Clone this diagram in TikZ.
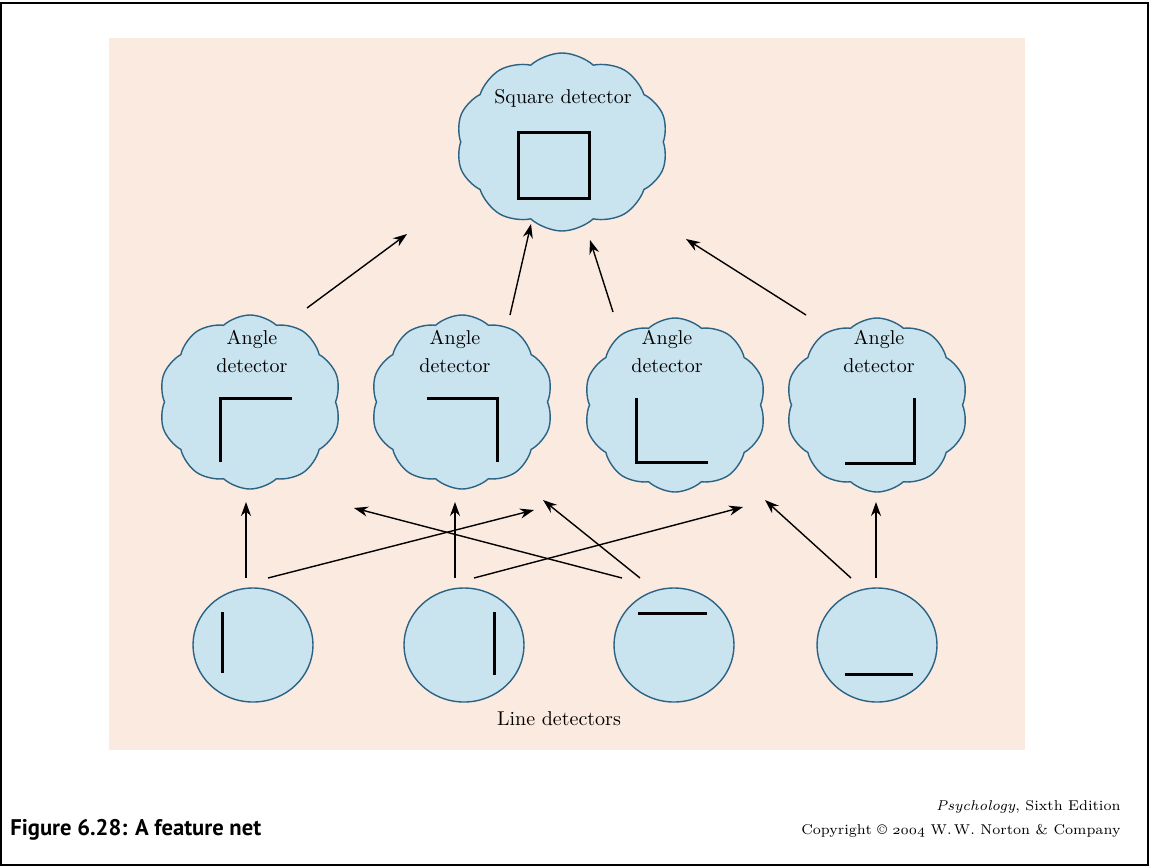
\documentclass[tikz,border=0pt]{standalone}
\usepackage{fontspec}
\newfontfamily\capfont{PT Sans}
\usepackage{tikz}
\usetikzlibrary{calc,shapes.symbols,shapes.geometric,arrows.meta}
\definecolor{peach}{HTML}{FBEADF}
\definecolor{skyfill}{HTML}{C9E3EF}
\definecolor{skyline}{HTML}{2B6384}
\tikzset{
  >={Stealth[length=7pt,width=5pt]},
  detcloud/.style={
    cloud,
    cloud puffs=10,
    cloud puff arc=85,
    cloud ignores aspect,
    fill=skyfill,
    draw=skyline, line width=0.7pt,
    minimum width=91pt,
    minimum height=87pt,
    inner sep=0pt},
  linedet/.style={
    ellipse,
    fill=skyfill,
    draw=skyline, line width=0.7pt,
    minimum width=60pt,
    minimum height=57pt,
    inner sep=0pt},
  glyph/.style={line width=1.5pt},
  lbl/.style={align=center, font=\fontsize{10}{14}\selectfont},
  feed/.style={->, line width=0.7pt},
  credit/.style={anchor=base east, inner sep=0pt, font=\fontsize{7.1}{10}\selectfont},
}
\begin{document}
\begin{tikzpicture}[x=0.5pt, y=-0.5pt]
  \useasboundingbox (0,0) rectangle (1149,867);
  \draw[line width=1pt] (1,3) rectangle (1148,865);
  \fill[peach] (109,38) rectangle (1025,750);

  % detectors
  \node[detcloud, minimum width=106pt, minimum height=89pt] (sq) at (562,142) {};
  \node[detcloud] (a1) at (250,402) {};
  \node[detcloud] (a2) at (462,402) {};
  \node[detcloud] (a3) at (675,405) {};
  \node[detcloud] (a4) at (877,405) {};
  \node[linedet] (l1) at (253,645) {};
  \node[linedet] (l2) at (464,645) {};
  \node[linedet] (l3) at (674,645) {};
  \node[linedet] (l4) at (877,645) {};

  % texts
  \node[lbl] (sq-txt) at ($(sq)+(1,-44)$) {Square detector};
  \node[lbl] (a1-txt) at ($(a1)+(2,-51)$) {Angle\\detector};
  \node[lbl] (a2-txt) at ($(a2)+(-7,-51)$) {Angle\\detector};
  \node[lbl] (a3-txt) at ($(a3)+(-8,-54)$) {Angle\\detector};
  \node[lbl] (a4-txt) at ($(a4)+(2,-54)$) {Angle\\detector};
  \node[lbl, anchor=base] (line-txt) at (559,725) {Line detectors};

  % features
  \draw[glyph] ($(sq)+(-44,-10)$) rectangle ($(sq)+(27,56)$);
  \draw[glyph] ($(a1)+(-30,60)$) -- ($(a1)+(-30,-4)$) -- ($(a1)+(42,-4)$);
  \draw[glyph] ($(a2)+(-35,-4)$) -- ($(a2)+(35,-4)$) -- ($(a2)+(35,60)$);
  \draw[glyph] ($(a3)+(-39,-7)$) -- ($(a3)+(-39,57)$) -- ($(a3)+(33,57)$);
  \draw[glyph] ($(a4)+(37,-7)$) -- ($(a4)+(37,58)$) -- ($(a4)+(-32,58)$);
  \draw[glyph] ($(l1)+(-31,-33)$) -- ($(l1)+(-31,28)$);
  \draw[glyph] ($(l2)+(30,-33)$) -- ($(l2)+(30,30)$);
  \draw[glyph] ($(l3)+(-36,-32)$) -- ($(l3)+(33,-32)$);
  \draw[glyph] ($(l4)+(-32,29)$) -- ($(l4)+(36,29)$);

  % line detectors to angle detectors
  \draw[feed] ($(l1)+(-7,-67)$) -- ($(a1)+(-4,100)$);
  \draw[feed] ($(l1)+(15,-67)$) -- ($(a3)+(-141,105)$);
  \draw[feed] ($(l2)+(-9,-67)$) -- ($(a2)+(-7,100)$);
  \draw[feed] ($(l2)+(10,-67)$) -- ($(a4)+(-134,102)$);
  \draw[feed] ($(l3)+(-52,-67)$) -- ($(a1)+(104,106)$);
  \draw[feed] ($(l3)+(-34,-67)$) -- ($(a2)+(81,98)$);
  \draw[feed] ($(l4)+(-26,-67)$) -- ($(a3)+(90,95)$);
  \draw[feed] ($(l4)+(-1,-67)$) -- ($(a4)+(-1,97)$);

  % angle detectors to square detector
  \draw[feed] ($(a1)+(57,-94)$) -- ($(sq)+(-155,92)$);
  \draw[feed] ($(a2)+(48,-87)$) -- ($(sq)+(-31,82)$);
  \draw[feed] ($(a3)+(-62,-93)$) -- ($(sq)+(28,98)$);
  \draw[feed] ($(a4)+(-71,-90)$) -- ($(sq)+(124,97)$);

  % captions
  \node[anchor=base west, inner sep=0pt, font=\capfont\bfseries\fontsize{11.3}{13}\selectfont] (caption) at (10,835) {Figure 6.28: A feature net};
  \node[credit] (credit-a) at (1121,810) {\emph{Psychology}, Sixth Edition};
  \node[credit] (credit-b) at (1121,834) {Copyright \copyright{} {\usefont{OML}{cmm}{m}{it}2004} W.\,W. Norton \& Company};
\end{tikzpicture}
\end{document}
